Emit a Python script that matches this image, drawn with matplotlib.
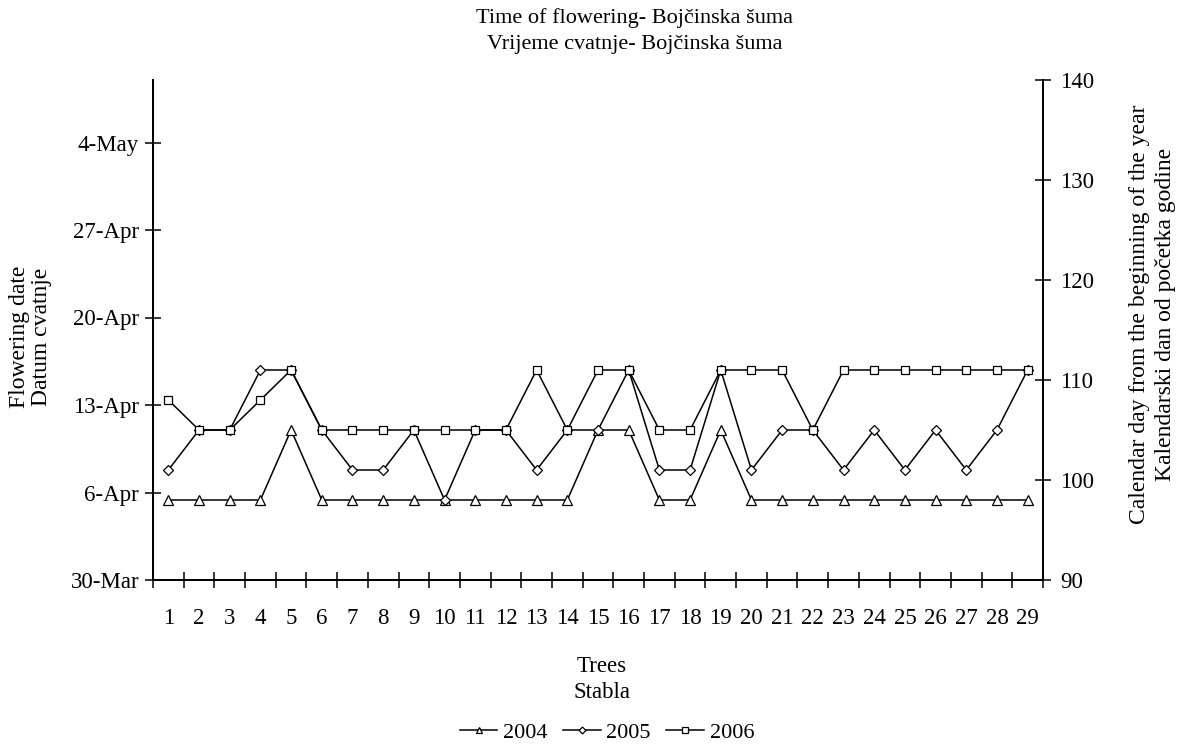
import matplotlib.pyplot as plt
from matplotlib.ticker import FixedLocator, NullFormatter

plt.rcParams['font.family'] = ['Liberation Serif', 'DejaVu Serif']
plt.rcParams['font.size'] = 16.5

trees = list(range(1, 30))
# calendar day from the beginning of the year
y2004 = [98, 98, 98, 98, 105, 98, 98, 98, 98, 98, 98, 98, 98, 98, 105,
         105, 98, 98, 105, 98, 98, 98, 98, 98, 98, 98, 98, 98, 98]
y2005 = [101, 105, 105, 111, 111, 105, 101, 101, 105, 98, 105, 105, 101, 105, 105,
         111, 101, 101, 111, 101, 105, 105, 101, 105, 101, 105, 101, 105, 111]
y2006 = [108, 105, 105, 108, 111, 105, 105, 105, 105, 105, 105, 105, 111, 105, 111,
         111, 105, 105, 111, 111, 111, 105, 111, 111, 111, 111, 111, 111, 111]

date_days = [90, 97, 104, 111, 118, 125]
date_labels = ['30-Mar', '6-Apr', '13-Apr', '20-Apr', '27-Apr', '4-May']

fig = plt.figure(figsize=(11.88, 7.45), dpi=100)
ax = fig.add_axes([153 / 1188, 1 - 580 / 745, 890 / 1188, 500 / 745])
ax2 = ax.twinx()

ax.set_xlim(0.5, 29.5)
ax.set_ylim(90, 130)
ax.set_yticks(date_days)
ax.set_yticklabels(date_labels)
ax.set_xticks(trees)
ax.set_xticklabels([str(t) for t in trees])
ax.xaxis.set_minor_locator(FixedLocator([t + 0.5 for t in range(0, 30)]))
ax.xaxis.set_minor_formatter(NullFormatter())
ax.tick_params(axis='x', which='major', length=0, pad=20)
ax.tick_params(axis='x', which='minor', direction='inout', length=11, width=1.1)
ax.tick_params(axis='y', direction='inout', length=11, width=1.1, pad=4.5)

ax2.set_ylim(90, 140)
ax2.set_yticks([90, 100, 110, 120, 130, 140])
ax2.tick_params(axis='y', direction='inout', length=11, width=1.1, pad=7)

for a in (ax, ax2):
    for s in a.spines.values():
        s.set_linewidth(1.4)
    a.spines['top'].set_visible(False)

mk = dict(color='black', lw=1.1, markerfacecolor='white', markeredgecolor='black',
          markeredgewidth=0.9, clip_on=False)
l1, = ax2.plot(trees, y2004, marker='^', markersize=6.5, label='2004', **mk)
l2, = ax2.plot(trees, y2005, marker='D', markersize=5, label='2005', **mk)
l3, = ax2.plot(trees, y2006, marker='s', markersize=6, label='2006', **mk)

fig.text(635 / 1188, 1 - 18 / 745, 'Time of flowering- Bojčinska šuma', ha='center', va='center', fontsize=16)
fig.text(635 / 1188, 1 - 45 / 745, 'Vrijeme cvatnje- Bojčinska šuma', ha='center', va='center', fontsize=16)

fig.text(602 / 1188, 1 - 667 / 745, 'Trees', ha='center', va='center')
fig.text(602 / 1188, 1 - 693 / 745, 'Stabla', ha='center', va='center')

fig.text(20 / 1188, 1 - 337 / 745, 'Flowering date', rotation=90, ha='center', va='center', fontsize=17)
fig.text(42 / 1188, 1 - 337 / 745, 'Datum cvatnje', rotation=90, ha='center', va='center', fontsize=17)

fig.text(1139 / 1188, 1 - 314 / 745, 'Calendar day from the beginning of the year', rotation=90,
         ha='center', va='center', fontsize=17)
fig.text(1166 / 1188, 1 - 314 / 745, 'Kalendarski dan od početka godine', rotation=90,
         ha='center', va='center', fontsize=17)

leg = fig.legend(handles=[l1, l2, l3], loc='center', bbox_to_anchor=(607 / 1188, 1 - 733 / 745),
                 ncol=3, frameon=False, fontsize=16, handlelength=1.7, handletextpad=0.25,
                 columnspacing=0.7, markerscale=0.7)

fig.savefig('out.png', dpi=100)
